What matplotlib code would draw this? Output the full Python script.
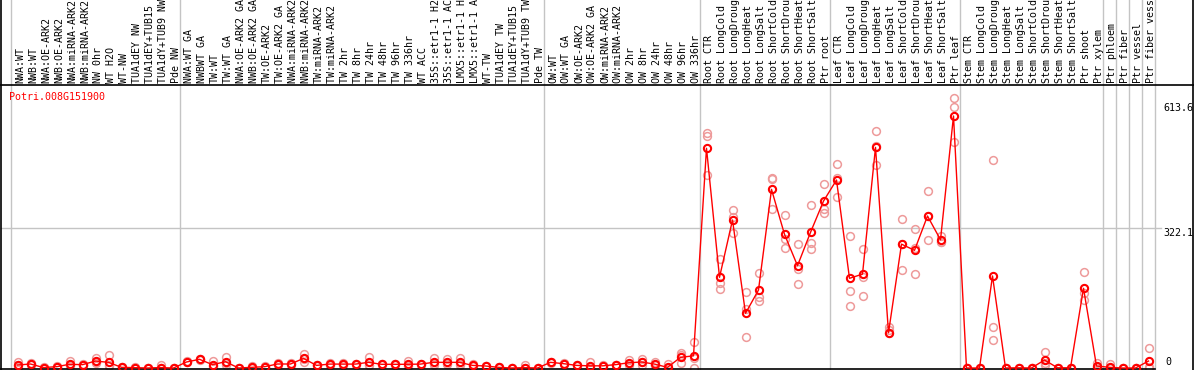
import numpy as np
import matplotlib
matplotlib.use('Agg')
import matplotlib.pyplot as plt
import matplotlib.transforms as mtransforms
from matplotlib.lines import Line2D

gene = 'Potri.008G151900'

labels = [
    # NW group
    'NWA:WT', 'NWB:WT', 'NWA:OE-ARK2', 'NWB:OE-ARK2', 'NWA:miRNA-ARK2', 'NWB:miRNA-ARK2',
    'NW 0hr', 'WT H2O', 'WT-NW', 'TUA1dEY NW', 'TUA1dEY+TUB15 NW', 'TUA1dY+TUB9 NW', 'Pde NW',
    # TW group
    'NWA:WT GA', 'NWBWT GA', 'TW:WT', 'TW:WT GA', 'NWA:OE-ARK2 GA', 'NWB:OE-ARK2 GA',
    'TW:OE-ARK2', 'TW:OE-ARK2 GA', 'NWA:miRNA-ARK2 GA', 'NWB:miRNA-ARK2 GA', 'TW:miRNA-ARK2',
    'TW:miRNA-ARK2 GA', 'TW 2hr', 'TW 8hr', 'TW 24hr', 'TW 48hr', 'TW 96hr', 'TW 336hr', 'WT ACC',
    '35S::etr1-1 H2O', '35S::etr1-1 ACC', 'LMX5::etr1-1 H2O', 'LMX5::etr1-1 ACC', 'WT-TW',
    'TUA1dEY TW', 'TUA1dEY+TUB15 TW', 'TUA1dY+TUB9 TW', 'Pde TW',
    # OW group
    'OW:WT', 'OW:WT GA', 'OW:OE-ARK2', 'OW:OE-ARK2 GA', 'OW:miRNA-ARK2', 'OW:miRNA-ARK2 GA',
    'OW 2hr', 'OW 8hr', 'OW 24hr', 'OW 48hr', 'OW 96hr', 'OW 336hr',
    # root
    'Root CTR', 'Root LongCold', 'Root LongDrought', 'Root LongHeat', 'Root LongSalt',
    'Root ShortCold', 'Root ShortDrought', 'Root ShortHeat', 'Root ShortSalt', 'Ptr root',
    # leaf
    'Leaf CTR', 'Leaf LongCold', 'Leaf LongDrought', 'Leaf LongHeat', 'Leaf LongSalt',
    'Leaf ShortCold', 'Leaf ShortDrought', 'Leaf ShortHeat', 'Leaf ShortSalt', 'Ptr leaf',
    # stem
    'Stem CTR', 'Stem LongCold', 'Stem LongDrought', 'Stem LongHeat', 'Stem LongSalt',
    'Stem ShortCold', 'Stem ShortDrought', 'Stem ShortHeat', 'Stem ShortSalt', 'Ptr shoot',
    'Ptr xylem', 'Ptr phloem', 'Ptr fiber', 'Ptr vessel', 'Ptr fiber vessel',
]

means = [
    6.9, 9.2, 1, 3, 8.5, 7.7, 16, 13, 1.5, 0.8, 0, 1, 0,
    13.8, 20, 7.7, 14.5, 0, 1.5, 3, 9.2, 9.2, 22, 6, 9, 9, 9, 13, 8.5, 8.5,
    8.5, 9, 13, 13, 13, 6, 4.6, 1.5, 0, 0.8, 0,
    13, 10, 6, 5, 5, 7.7, 12, 13.8, 9, 1.5, 24.5, 28,
    505.5, 208.6, 340.5, 125.8, 179.5, 411, 307.5, 235.4, 312, 384,
    432.5, 206.3, 216, 507.6, 81, 285, 270.7, 349.7, 295, 579.8,
    0, 0, 211.7, 0, 0.5, 0, 18.4, 0.5, 0.5, 183.3,
    4.6, 1.5, 0, 0, 16,
]

rep1 = [
    13, 9, 1, 5, 16, 8, 23, 30, 2, 1, 0, 7, 0,
    14, 20, 17, 24.6, 0, 4, 3, 11, 12, 32, 7, 12, 11, 10, 26, 9, 9,
    17, 10, 22, 21, 22, 10, 5, 2, 0, 6, 0,
    14, 11, 7, 13, 6, 8, 18, 20, 13, 8.5, 34, 60,
    541, 250, 363.5, 174, 218, 436, 351, 285, 374, 422.6,
    469, 303.7, 273, 546, 93.6, 342, 319, 406.5, 303.7, 620.5,
    0, 0, 478.5, 0, 1, 0, 36, 1, 1, 221.6,
    10.8, 9.2, 0, 0, 45.3,
]
rep2 = [
    6, 8, 2, 2, 7, 9, 12, 4, 1, 0, 0, 0, 0,
    13, 19, 4, 8, 0, 0, 2, 8, 7, 13, 5, 7, 8, 8, 6, 8, 8,
    5, 8, 9, 9, 8, 4, 4, 1, 0, 0, 0,
    12, 9, 5, 1, 4, 7, 8, 8, 6, 0, 29, 24,
    534.6, 195, 311, 135, 162.6, 434, 275, 192.6, 287, 365,
    392.7, 176.4, 208.6, 467, 87.4, 285, 277, 349, 290.6, 599.8,
    0, 0, 93.6, 0, 0, 0, 7, 0, 0, 171.8,
    3, 0, 0, 0, 3,
]
rep3 = [
    3, 11, 0, 3, 4, 6, 14, 6, 1.5, 1.5, 0, 0, 0,
    15, 21, 2, 11, 0, 1, 4, 9, 9, 21, 6, 8, 8, 9, 7, 9, 9,
    4, 9, 8, 9, 9, 4, 5, 1.5, 0, 0, 0,
    13, 10, 6, 1, 5, 8, 10, 13, 8, 0, 10.5, 0,
    443, 181, 347, 70.6, 155, 365, 297, 228, 274, 357,
    436, 142.6, 165.6, 510, 81, 225.5, 216, 294.5, 291, 519.3,
    0, 0, 64.4, 0, 0.5, 0, 12, 0.5, 0.5, 156,
    0, 0, 0, 0, 0,
]

yticks = [0, 322.1, 613.6]
group_edges = [-0.5, 12.5, 40.5, 52.5, 62.5, 72.5, 83.5, 84.5, 85.5, 86.5, 87.5]

W, H = 1194, 370
mono = 'DejaVu Sans Mono'
fs = 7.2

fig = plt.figure(figsize=(W / 100, H / 100), dpi=100)
ax = fig.add_axes([1 / W, 1 / H, 1154 / W, 284 / H])
ax.set_facecolor('white')

x = np.arange(len(labels))
for reps in (rep1, rep2, rep3):
    ax.plot(x, reps, linestyle='none', marker='o', markersize=5.6, mfc='none',
            mec='#ee9a9a', mew=1.1, zorder=2, clip_on=False)
ax.plot(x, means, color='red', lw=1, zorder=3, clip_on=False)
ax.plot(x, means, linestyle='none', marker='o', markersize=5.2, mfc='none',
        mec='red', mew=1.5, zorder=4, clip_on=False)

ax.set_xlim(-1.27, 87.5)
ax.set_ylim(-2.3, 651.1)
ax.set_xticks([])
ax.set_yticks([])
for s in ('top', 'right'):
    ax.spines[s].set_visible(False)
ax.spines['left'].set_visible(False)
ax.spines['bottom'].set_color('black')
ax.spines['bottom'].set_linewidth(1.2)

# group separators through plot and label area
for e in group_edges:
    ax.axvline(e, ymin=-0.01, ymax=1.31, color='#c4c4c4', lw=1, zorder=1, clip_on=False)

# mid gridline
ax.axhline(yticks[1], xmin=0, xmax=(1161 - 1) / 1154, color='#c4c4c4', lw=1,
           zorder=1, clip_on=False)

# y value labels on the right
ytr = ax.get_yaxis_transform()
xl = (1163 - 1) / 1154
ax.text(xl, yticks[2] - 5, f'{yticks[2]:.1f}', transform=ytr, ha='left', va='top',
        fontsize=fs, family=mono, clip_on=False)
ax.text(xl, yticks[1] - 1, f'{yticks[1]:.1f}', transform=ytr, ha='left', va='top',
        fontsize=fs, family=mono, clip_on=False)
ax.text(xl + 0.002, 3, '0', transform=ytr, ha='left', va='bottom',
        fontsize=fs, family=mono, clip_on=False)

# frame lines
fig.add_artist(Line2D([0, 1], [1 - 85 / H] * 2, color='black', lw=1.2, transform=fig.transFigure))
fig.add_artist(Line2D([0.8 / W] * 2, [0, 1], color='black', lw=1.2, transform=fig.transFigure))
fig.add_artist(Line2D([1 - 1 / W] * 2, [0, 1], color='black', lw=1.2, transform=fig.transFigure))

# sample labels
ltr = mtransforms.blended_transform_factory(ax.transData, fig.transFigure)
for i, lab in enumerate(labels):
    fig.text(i + 0.2, 1 - 83 / H, lab, transform=ltr, rotation=90, ha='center',
             va='bottom', fontsize=fs, family=mono, color='black')

fig.text(9 / W, 1 - 97 / H, gene, color='red', fontsize=fs, family=mono,
         ha='left', va='center')

fig.savefig('out.png', dpi=100, facecolor='white')
